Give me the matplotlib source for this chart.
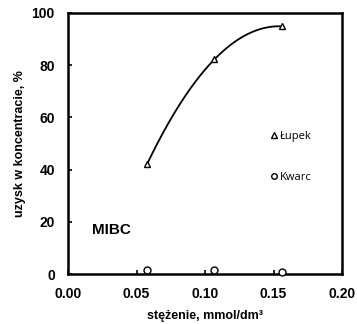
import numpy as np
import matplotlib
matplotlib.use("Agg")
import matplotlib.pyplot as plt
from matplotlib.lines import Line2D

conc_lupek = [0.0577, 0.1068, 0.156]
rec_lupek = [42.1, 82.2, 94.9]
conc_kwarc = [0.0577, 0.1068, 0.156]
rec_kwarc = [1.5, 1.5, 0.6]
xticks = [0.00, 0.05, 0.10, 0.15, 0.20]
yticks = [0, 20, 40, 60, 80, 100]

plt.rcParams['font.family'] = ['Liberation Sans', 'DejaVu Sans']

fig = plt.figure(figsize=(3.57, 3.24), dpi=100)
ax = fig.add_axes([0.1905, 0.1543, 0.7675, 0.8056])

# smooth curve through Łupek points
coef = np.polyfit(conc_lupek, rec_lupek, 2)
xs = np.linspace(conc_lupek[0], conc_lupek[-1], 200)
ax.plot(xs, np.polyval(coef, xs), color='black', lw=1.3, zorder=2)

ax.plot(conc_lupek, rec_lupek, linestyle='none', marker='^', ms=5,
        mfc='white', mec='black', mew=1.0, zorder=3, clip_on=False)
ax.plot(conc_kwarc, rec_kwarc, linestyle='none', marker='o', ms=5,
        mfc='white', mec='black', mew=1.0, zorder=3, clip_on=False)

ax.set_xlim(0, 0.2)
ax.set_ylim(0, 100)
ax.set_xticks(xticks)
ax.set_yticks(yticks)
ax.set_xticklabels([f"{v:.2f}" for v in xticks], fontweight='bold', fontsize=10)
ax.set_yticklabels([str(v) for v in yticks], fontweight='bold', fontsize=10)
ax.tick_params(direction='in', length=3, width=1.2)
ax.tick_params(axis='x', pad=9.5)
ax.tick_params(axis='y', pad=9.5)
for s in ax.spines.values():
    s.set_linewidth(1.8)

ax.set_xlabel('stężenie, mmol/dm³', fontweight='bold', fontsize=9, labelpad=6)
ax.set_ylabel('uzysk w koncentracie, %', fontweight='bold', fontsize=9, labelpad=4)

ax.text(0.032, 17, 'MIBC', fontweight='bold', fontsize=11, ha='center', va='center',
        transform=ax.transData)

handles = [Line2D([], [], linestyle='none', marker='^', ms=4, mfc='white', mec='black', mew=1.0),
           Line2D([], [], linestyle='none', marker='o', ms=4, mfc='white', mec='black', mew=1.0)]
leg = ax.legend(handles, ['Łupek', 'Kwarc'], loc='center left',
                bbox_to_anchor=(0.705, 0.449), frameon=False, handlelength=0.5,
                handletextpad=0.3, labelspacing=2.7,
                prop={'family': 'Open Sans', 'size': 8})

fig.savefig('out.png', dpi=100)
